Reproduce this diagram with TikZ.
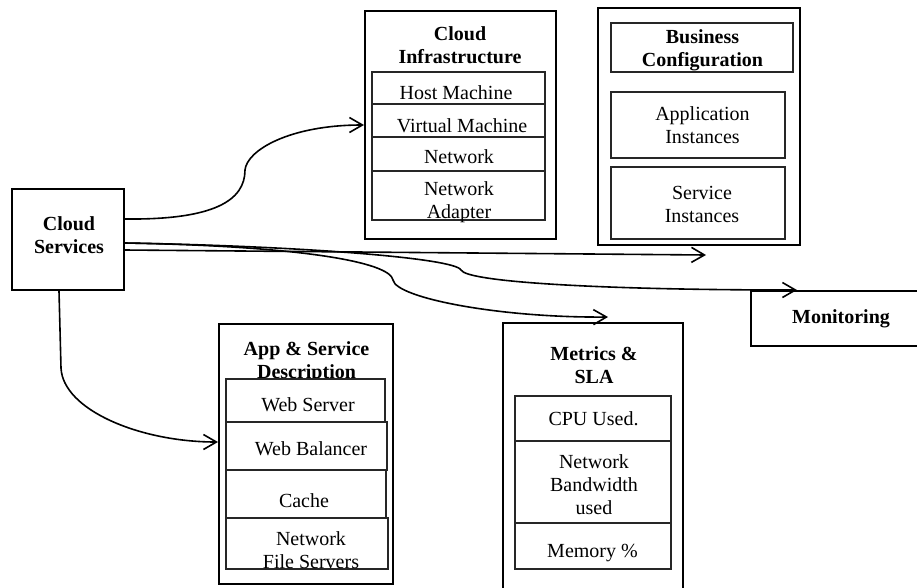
\documentclass[tikz,border=0pt]{standalone}
\usepackage{fontspec}
\setmainfont{Liberation Serif}
\usetikzlibrary{arrows.meta,calc}
\tikzset{
  outerbox/.style={draw=black, line width=2pt, inner sep=0pt},
  innerbox/.style={draw=black!85, line width=1.2pt, fill=white, inner sep=0pt},
  txt/.style={inner sep=0pt, font=\fontsize{20}{23}\selectfont},
  btxt/.style={txt, font=\fontsize{20}{23}\selectfont\bfseries},
  multi/.style={align=center, anchor=north},
  single/.style={anchor=base},
  conn/.style={line width=1.6pt, -{Straight Barb[length=13pt,width=15pt]}},
}
\begin{document}
\begin{tikzpicture}[x=1pt,y=-1pt]
\clip (0,0) rectangle (917,587);
\fill[white] (0,0) rectangle (917,587);

% Cloud Services
\node[outerbox, minimum width=112pt, minimum height=101pt] (cs) at (68,239.5) {};
\node[btxt, multi] (tcs) at (69,213.9) {\strut Cloud\\Services};

% Cloud Infrastructure
\node[outerbox, minimum width=191pt, minimum height=228pt] (ci) at (460.5,125) {};
\node[btxt, multi] (tci) at (460,23.9) {\strut Cloud\\Infrastructure};
\node[innerbox, minimum width=173pt, minimum height=32pt] (ci1) at (458.5,88) {};
\node[innerbox, minimum width=173pt, minimum height=33pt] (ci2) at (458.5,120.5) {};
\node[innerbox, minimum width=173pt, minimum height=34pt] (ci3) at (458.5,154) {};
\node[innerbox, minimum width=173pt, minimum height=49pt] (ci4) at (458.5,195.5) {};
\node[txt, single] (tci1) at (456,99) {Host Machine};
\node[txt, single] (tci2) at (462,132) {Virtual Machine};
\node[txt, single] (tci3) at (459,163) {Network};
\node[txt, multi] (tci4) at (459,178.9) {\strut Network\\Adapter};

% Business Configuration
\node[outerbox, minimum width=202pt, minimum height=237pt] (bc) at (699,126.5) {};
\node[innerbox, minimum width=182pt, minimum height=49pt] (bc1) at (702,47.5) {};
\node[innerbox, minimum width=174pt, minimum height=66pt] (bc2) at (698,125) {};
\node[innerbox, minimum width=174pt, minimum height=72pt] (bc3) at (698,203) {};
\node[btxt, multi] (tbc1) at (702.5,26.9) {\strut Business\\Configuration};
\node[txt, multi] (tbc2) at (702.5,103.9) {\strut Application\\Instances};
\node[txt, multi] (tbc3) at (702,182.9) {\strut Service\\Instances};

% Monitoring
\node[outerbox, minimum width=184pt, minimum height=55pt] (mon) at (843,318.5) {};
\node[btxt, single] (tmon) at (841,323) {Monitoring};

% App & Service Description
\node[outerbox, minimum width=174pt, minimum height=260pt] (as) at (306,454) {};
\node[btxt, multi] (tas) at (306.5,338.9) {\strut App \& Service\\Description};
\node[innerbox, minimum width=159pt, minimum height=43pt] (as1) at (305.5,400.5) {};
\node[innerbox, minimum width=161pt, minimum height=48pt] (as2) at (306.5,446) {};
\node[innerbox, minimum width=160pt, minimum height=48pt] (as3) at (306,494) {};
\node[innerbox, minimum width=162pt, minimum height=51pt] (as4) at (307,543.5) {};
\node[txt, single] (tas1) at (308,411) {Web Server};
\node[txt, single] (tas2) at (311,455) {Web Balancer};
\node[txt, single] (tas3) at (304,507) {Cache};
\node[txt, multi] (tas4) at (311,528.9) {\strut Network\\File Servers};

% Metrics & SLA
\node[outerbox, minimum width=180pt, minimum height=282pt] (ms) at (593,464) {};
\node[btxt, multi] (tms) at (594,343.9) {\strut Metrics \&\\SLA};
\node[innerbox, minimum width=156pt, minimum height=45pt] (ms1) at (593,418.5) {};
\node[innerbox, minimum width=156pt, minimum height=82pt] (ms2) at (593,482) {};
\node[innerbox, minimum width=156pt, minimum height=46pt] (ms3) at (593,546) {};
\node[txt, single] (tms1) at (593.5,425) {CPU Used.};
\node[txt, multi] (tms2) at (594,451.9) {\strut Network\\Bandwidth\\used};
\node[txt, single] (tms3) at (592.5,557) {Memory \%};

% connector end points
\coordinate (csA) at ($(cs.north east)+(0,31)$);
\coordinate (csB) at ($(cs.north east)+(0,55)$);
\coordinate (csC) at ($(cs.north east)+(0,62)$);
\coordinate (csD) at ($(cs.south)+(-9,0)$);
\coordinate (bcEnd) at ($(bc.south)+(7,9)$);
\coordinate (monEnd) at ($(mon.north west)+(47,0)$);
\coordinate (msEnd) at ($(ms.north)+(15,-5)$);
\coordinate (asEnd) at ($(as.west)+(0,-12)$);

% connectors
\draw[conn] (csA) .. controls (215,220) and (245,200) .. (245,170)
  .. controls (247,150) and (290,125) .. (ci.west);
\draw[conn] (csC) -- (bcEnd);
\draw[conn] (csB) .. controls (300,246) and (455,258) .. (461,270)
  .. controls (467,282) and (600,290) .. (monEnd);
\draw[conn] (csB) .. controls (300,246) and (390,262) .. (393,280)
  .. controls (396,298) and (500,318) .. (msEnd);
\draw[conn] (csD) -- (61,368) .. controls (63,410) and (140,442) .. (asEnd);
\end{tikzpicture}
\end{document}
